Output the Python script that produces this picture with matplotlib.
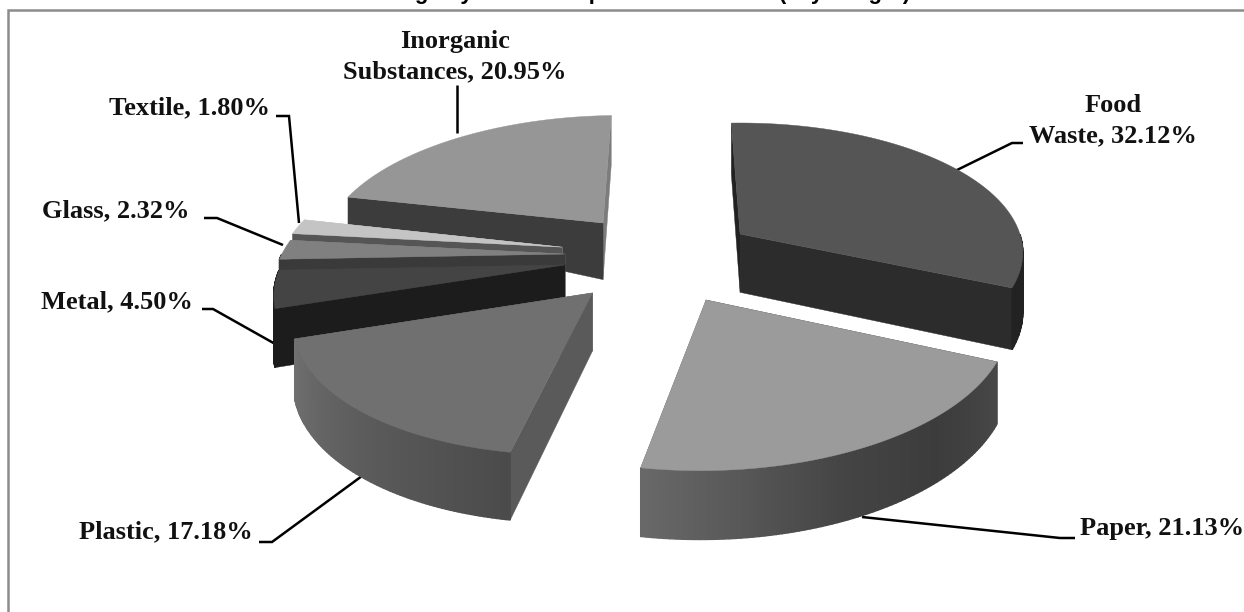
import numpy as np
import matplotlib
matplotlib.use("Agg")
import matplotlib.pyplot as plt
from matplotlib.patches import Polygon

# Waste composition, clockwise from the top of the pie
categories = ["Food\nWaste", "Paper", "Plastic", "Metal", "Glass", "Textile", "Inorganic\nSubstances"]
shares = [32.12, 21.13, 17.18, 4.50, 2.32, 1.80, 20.95]

# Exploded offsets of each slice on the ground plane
offset_x = [0.309, 0.179, -0.185, -0.282, -0.285, -0.297, -0.163]
offset_y = [-0.201, 0.288, 0.239, 0.037, -0.045, -0.098, -0.290]
radius_x = [0.96, 0.96, 0.94, 0.94, 0.95, 0.94, 0.95]
radius_y = [1.01, 1.00, 0.97, 0.98, 1.00, 1.00, 1.00]
slice_height = [60.0, 56.0, 56.0, 56.0, 56.0, 56.0, 59.0]

# Greys: top face, first cut face, last cut face, rim shading stops
top_colors = ["#555555", "#9b9b9b", "#707070", "#444444", "#808080", "#c4c4c4", "#969696"]
start_colors = ["#222222", "#444444", "#5a5a5a", "#1c1c1c", "#3a3a3a", "#555555", "#3c3c3c"]
end_colors = ["#2c2c2c", "#666666", "#666666", "#444444", "#808080", "#c4c4c4", "#7c7c7c"]
rim_stops = [
    ([0, 1], [0x22, 0x22]),
    ([0, 0.3, 0.55, 1], [0x48, 0x3c, 0x44, 0x68]),
    ([0, 0.5, 1], [0x4b, 0x5c, 0x70]),
    ([0, 1], [0x1c, 0x1c]),
    ([0, 1], [0x3a, 0x3a]),
    ([0, 1], [0x55, 0x55]),
    ([0, 1], [0x3c, 0x3c]),
]
# Height of the outer corner of the first cut face, relative to the slice
start_rim_height = [1.0, 1.0, 1.0, 1.0, 1.0, 1.0, 0.5]
draw_order = [6, 0, 5, 4, 3, 2, 1]

# Leader lines and label anchors in figure pixels
leaders = [
    [(955, 171), (1012, 143), (1023, 143)],
    [(862, 517), (1060, 538), (1075, 538)],
    [(362, 476), (272, 542), (259, 542)],
    [(277, 345), (213, 309), (202, 309)],
    [(283, 245), (217, 218), (204, 218)],
    [(299, 223), (289, 116), (276, 116)],
    [(457, 133), (457, 85)],
]
label_xy = [(1113, 121), (1244, 529), (253, 532), (193, 302), (190, 211), (270, 108), (455, 57)]
label_ha = ["center", "right", "right", "right", "right", "right", "center"]

CENTER_X, CENTER_Y = 650.0, 260.0
SCALE_X, SCALE_Y = 300.0, 133.0
PERSPECTIVE = 0.145
START_ANGLE = -2.0
SHEAR = 0.045

fig = plt.figure(figsize=(12.44, 6.12), dpi=100, facecolor="white")
ax = fig.add_axes([0, 0, 1, 1])
ax.set_xlim(0, 1244)
ax.set_ylim(612, 0)
ax.axis("off")


def project(gx, gy, drop=0.0):
    """Ground-plane point to pixels; drop is the depth below the top face."""
    s = 1.0 / (1.0 - PERSPECTIVE * gy)
    return CENTER_X + SCALE_X * gx * s, CENTER_Y + SCALE_Y * gy * s + drop * s


def grey(level):
    v = int(round(level))
    return f"#{v:02x}{v:02x}{v:02x}"


edges = START_ANGLE + np.concatenate([[0], np.cumsum(shares)]) * 3.6

for order, i in enumerate(draw_order):
    z = 2 + order
    t0, t1 = np.radians(edges[i]), np.radians(edges[i + 1])
    theta = np.linspace(t0, t1, 80)
    ox, oy = offset_x[i], offset_y[i]
    gx = ox + radius_x[i] * (np.sin(theta) + SHEAR * np.cos(theta))
    gy = oy - radius_y[i] * np.cos(theta)
    sx, sy = project(gx, gy)
    dx, dy = project(gx, gy, slice_height[i])
    ax0, ay0 = project(ox, oy)
    bx0, by0 = project(ox, oy, slice_height[i])

    # Cut faces below the top
    lower = sy[0] + (dy[0] - sy[0]) * start_rim_height[i]
    ax.add_patch(Polygon([(ax0, ay0), (sx[-1], sy[-1]), (dx[-1], dy[-1]), (bx0, by0)],
                         closed=True, fc=end_colors[i], ec=end_colors[i], lw=0.3, zorder=z))
    ax.add_patch(Polygon([(ax0, ay0), (sx[0], sy[0]), (dx[0], lower), (bx0, by0)],
                         closed=True, fc=start_colors[i], ec=start_colors[i], lw=0.3, zorder=z))

    # Shaded rim, only where it faces the viewer
    stops, levels = rim_stops[i]
    for k in range(len(theta) - 1):
        if np.cos(0.5 * (theta[k] + theta[k + 1])) < 0:
            shade = grey(np.interp(k / (len(theta) - 2), stops, levels))
            ax.add_patch(Polygon([(sx[k], sy[k]), (sx[k + 1], sy[k + 1]), (dx[k + 1], dy[k + 1]), (dx[k], dy[k])],
                                 closed=True, fc=shade, ec=shade, lw=1.0, zorder=z))

    ax.add_patch(Polygon(np.r_[[[ax0, ay0]], np.c_[sx, sy]], closed=True,
                         fc=top_colors[i], ec=top_colors[i], lw=0.3, zorder=z))

for pts, name, val, xy, ha in zip(leaders, categories, shares, label_xy, label_ha):
    xs, ys = zip(*pts)
    ax.plot(xs, ys, color="black", lw=1.8, zorder=1, solid_capstyle="butt", solid_joinstyle="miter")
    ax.text(xy[0], xy[1], f"{name}, {val:.2f}%", ha=ha, va="center", family="Liberation Serif",
            fontweight="bold", fontsize=19, color="#111111", linespacing=1.42, multialignment="center", zorder=20)

# Chart frame and the title above it
ax.plot([8, 8, 1244], [612, 10, 10], color="#8c8c8c", lw=1.8, solid_joinstyle="miter", zorder=0)
ax.text(616, -1.5, "Percentage by Solid Composition of Waste (Dry Weight)", ha="center", va="baseline",
        family="Liberation Sans", fontweight="bold", fontsize=16, color="black", clip_on=False)

fig.savefig("out.png", dpi=100, facecolor="white")
